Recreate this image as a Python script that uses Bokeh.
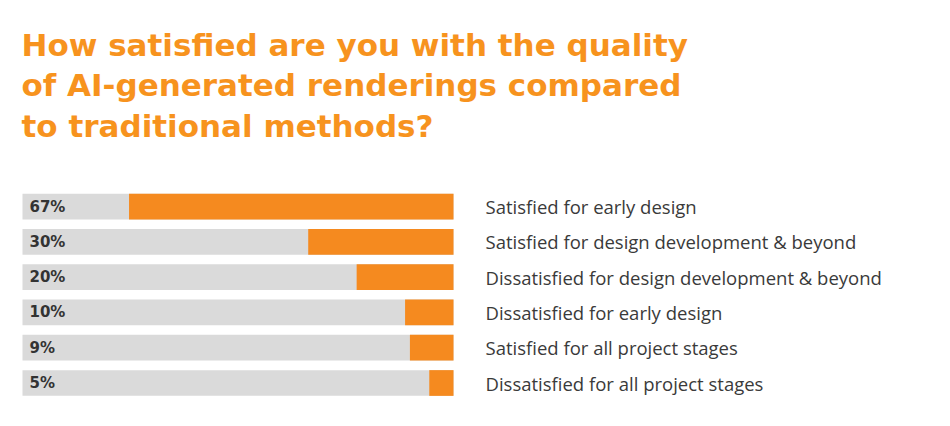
from bokeh.plotting import figure
from bokeh.models import ColumnDataSource, Range1d, Label
from bokeh.core.properties import value
from bokeh.embed import file_html
from bokeh.resources import INLINE

# ---- data ----
categories = [
    "Satisfied for early design",
    "Satisfied for design development & beyond",
    "Dissatisfied for design development & beyond",
    "Dissatisfied for early design",
    "Satisfied for all project stages",
    "Dissatisfied for all project stages",
]
percent_values = [67, 30, 20, 10, 9, 5]
percent_labels = ["67%", "30%", "20%", "10%", "9%", "5%"]
title_lines = [
    "How satisfied are you with the quality",
    "of AI-generated renderings compared",
    "to traditional methods?",
]

SCALE_MAX = 89  # value at the right edge of the grey track

W, H = 950, 426
PX_PER_UNIT = 431 / SCALE_MAX
ROW_PX = 35.26
ROW0_PX = 206.2
BAR_LEFT_PX = 22

rows = list(range(len(categories)))
src = ColumnDataSource(dict(
    row=rows,
    cat=categories,
    val=percent_values,
    lab=percent_labels,
    left=[SCALE_MAX - v for v in percent_values],
    right=[SCALE_MAX] * len(rows),
    zero=[0] * len(rows),
))

p = figure(
    width=W, height=H,
    output_backend="svg", toolbar_location=None,
    x_range=Range1d(-BAR_LEFT_PX / PX_PER_UNIT,
                    SCALE_MAX + (W - BAR_LEFT_PX - 431) / PX_PER_UNIT),
    y_range=Range1d((H - ROW0_PX) / ROW_PX, -ROW0_PX / ROW_PX),
    min_border=0, min_border_left=0, min_border_right=0,
    min_border_top=0, min_border_bottom=0,
)
p.axis.visible = False
p.grid.visible = False
p.outline_line_color = None
p.background_fill_color = "white"
p.border_fill_color = "white"

bar_h = 0.73
# grey track
p.hbar(y="row", left="zero", right="right", height=bar_h, source=src,
       fill_color="#DADADA", line_color=None)
# orange value bar (anchored right)
p.hbar(y="row", left="left", right="right", height=bar_h, source=src,
       fill_color="#F58A1F", line_color=None)

# percentage labels
p.text(x="zero", y="row", text="lab", source=src, x_offset=7,
       text_font=value("DejaVu Sans"), text_font_style="bold",
       text_font_size="15px", text_color="#333333",
       text_baseline="middle", text_align="left")

# category labels
p.text(x="right", y="row", text="cat", source=src, x_offset=32,
       text_font=value("Open Sans"), text_font_size="18.5px",
       text_color="#3A3A3A", text_baseline="middle", text_align="left")

# title
baselines = [381.5, 341.3, 301.0]
for line, yb in zip(title_lines, baselines):
    p.add_layout(Label(
        x=21, y=yb, x_units="screen", y_units="screen", text=line,
        text_font="DejaVu Sans", text_font_style="bold",
        text_font_size="31px", text_color="#F7931E",
        text_baseline="alphabetic", text_align="left",
    ))

open("out.html", "w").write(file_html(p, INLINE))
